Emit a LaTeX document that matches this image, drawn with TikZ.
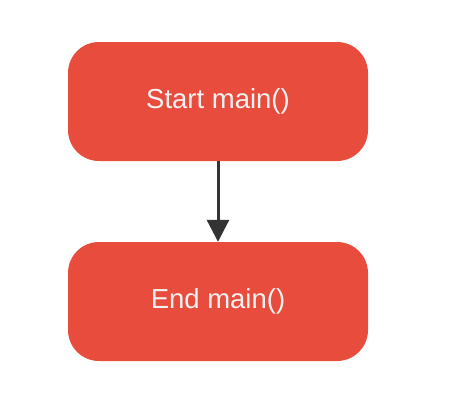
\documentclass[tikz,border=0pt]{standalone}
\usepackage{fontspec}
\setmainfont{Liberation Sans}
\usetikzlibrary{arrows.meta}
\definecolor{boxred}{HTML}{E74C3C}
\definecolor{txt}{HTML}{F2F2F2}
\definecolor{arr}{HTML}{333333}
\tikzset{
  stepbox/.style={draw=none, fill=boxred, rounded corners=31pt, minimum width=300pt, minimum height=119pt, inner sep=0pt, text=txt, font=\fontsize{27.5pt}{32pt}\selectfont},
  flow/.style={draw=arr, line width=3pt, -{Triangle[length=22pt,width=22pt]}}
}
\begin{document}
\begin{tikzpicture}[x=1pt,y=-1pt]
\useasboundingbox (0,0) rectangle (458,418);
\node[stepbox] (start) at (218,101.5) {Start main()};
\node[stepbox] (end) at (218,301.5) {End main()};
\draw[flow] (start) -- (end);
\end{tikzpicture}
\end{document}
